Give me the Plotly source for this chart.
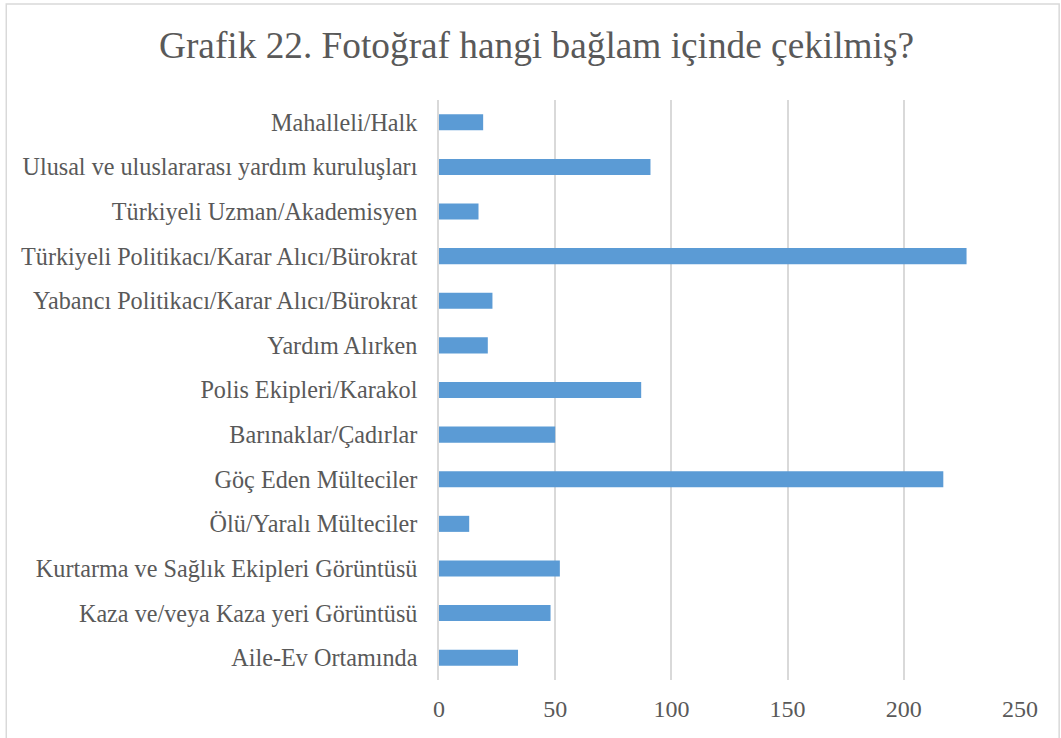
import plotly.graph_objects as go

categories = [
    "Mahalleli/Halk",
    "Ulusal ve uluslararası yardım kuruluşları",
    "Türkiyeli Uzman/Akademisyen",
    "Türkiyeli Politikacı/Karar Alıcı/Bürokrat",
    "Yabancı Politikacı/Karar Alıcı/Bürokrat",
    "Yardım Alırken",
    "Polis Ekipleri/Karakol",
    "Barınaklar/Çadırlar",
    "Göç Eden Mülteciler",
    "Ölü/Yaralı Mülteciler",
    "Kurtarma ve Sağlık Ekipleri Görüntüsü",
    "Kaza ve/veya Kaza yeri Görüntüsü",
    "Aile-Ev Ortamında",
]
values = [19, 91, 17, 227, 23, 21, 87, 50, 217, 13, 52, 48, 34]
x_ticks = [0, 50, 100, 150, 200, 250]

title_text = "Grafik 22. Fotoğraf hangi bağlam içinde çekilmiş?"

FONT = "Liberation Serif, Times New Roman, serif"
TXT = "#595959"
GRID = "#D9D9D9"

fig = go.Figure(
    go.Bar(
        x=values,
        y=categories,
        orientation="h",
        marker=dict(color="#5B9BD5", line=dict(width=0)),
        width=0.36,
    )
)

fig.update_layout(
    width=1061,
    height=738,
    margin=dict(l=439, r=41, t=100, b=58, autoexpand=False),
    paper_bgcolor="white",
    plot_bgcolor="white",
    showlegend=False,
    font=dict(family=FONT, color=TXT, size=24),
    title=dict(
        text=title_text,
        x=536.5 / 1061,
        xanchor="center",
        y=1 - 45 / 738,
        yanchor="middle",
        font=dict(family=FONT, size=37.3, color=TXT),
    ),
    shapes=[
        dict(
            type="rect",
            xref="paper",
            yref="paper",
            x0=-0.7448,
            x1=1.0674,
            y0=-0.12,
            y1=1.1655,
            line=dict(color=GRID, width=1.5),
            fillcolor="rgba(0,0,0,0)",
            layer="below",
        )
    ],
)

fig.update_xaxes(
    range=[0, 250],
    tickvals=x_ticks,
    showgrid=True,
    gridcolor=GRID,
    gridwidth=1.5,
    zeroline=False,
    showline=False,
    ticks="",
    ticklabelstandoff=12,
    tickfont=dict(family=FONT, size=24, color=TXT),
)
fig.update_yaxes(
    autorange="reversed",
    showgrid=False,
    zeroline=False,
    showline=True,
    linecolor=GRID,
    linewidth=1.5,
    ticks="",
    ticklabelstandoff=15,
    tickfont=dict(family=FONT, size=24.2, color=TXT),
)

fig.write_html(
    "out.html",
    config={"displayModeBar": False},
    post_script="document.body.style.margin='0';document.body.style.overflow='hidden';window.dispatchEvent(new Event('resize'));",
)
